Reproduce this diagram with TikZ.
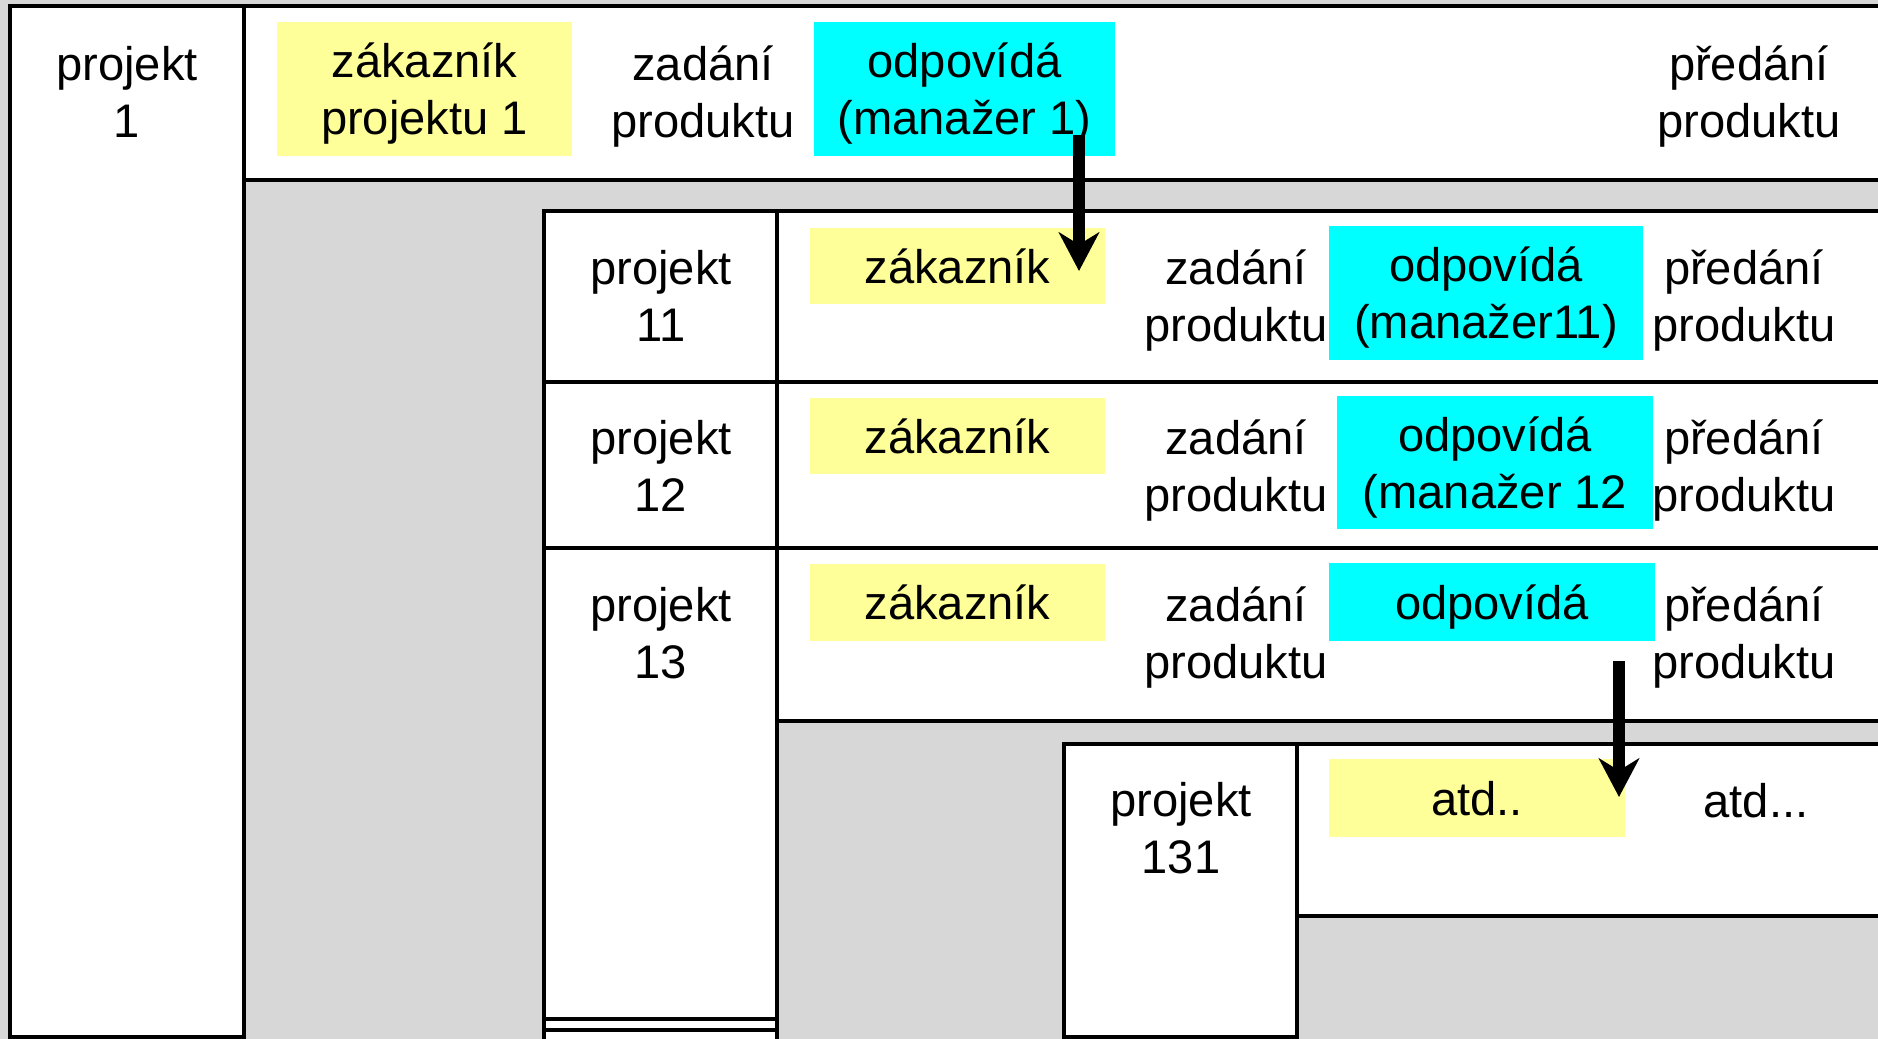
\documentclass[tikz,border=0pt]{standalone}
\usepackage{fontspec}
\setmainfont{Liberation Sans}
\usetikzlibrary{arrows.meta}
\definecolor{bggrey}{RGB}{215,215,215}
\definecolor{paleyellow}{RGB}{255,255,153}
\definecolor{brightcyan}{RGB}{0,255,255}
% lines are centred on their x-height band
\newcommand{\oneline}[1]{\smash{#1}\rule{0pt}{\dimexpr1ex+2.8pt\relax}}
\newcommand{\twolines}[2]{\smash{#1}\rule{0pt}{\dimexpr1ex+2.8pt\relax}\\\smash{#2}}
\tikzstyle{frame}=[draw=black, fill=white, line width=1.1pt]
\tikzstyle{txt}=[align=center, inner sep=0pt, font=\fontsize{13.4}{16.2}\selectfont]
\tikzstyle{yellowbox}=[txt, fill=paleyellow]
\tikzstyle{cyanbox}=[txt, fill=brightcyan]
\tikzstyle{arrow}=[draw=black, line width=3.2pt, -{Stealth[length=11pt, width=11.5pt, inset=3.5pt]}]
\begin{document}
\begin{tikzpicture}[x=0.01cm, y=-0.01cm]
		   \useasboundingbox (0,0) rectangle (1878,1039);
		   \clip (0,0) rectangle (1878,1039);
		   \fill[bggrey] (0,0) rectangle (1878,1039);
		   \begin{scope}
			   \path[frame] (10,6) rectangle (244,1037);
			   \path[frame] (244,6) rectangle (1900,180);
			   \path[frame] (544,211) rectangle (777,1100);
			   \draw[line width=1.1pt] (544,382) -- (777,382);
			   \draw[line width=1.1pt] (544,548) -- (777,548);
			   \draw[line width=1.1pt] (544,1019) -- (777,1019);
			   \draw[line width=1.1pt] (544,1030) -- (777,1030);
			   \path[frame] (777,211) rectangle (1900,382);
			   \path[frame] (777,382) rectangle (1900,548);
			   \path[frame] (777,548) rectangle (1900,721);
			   \path[frame] (1064,744) rectangle (1297,1037);
			   \path[frame] (1297,744) rectangle (1900,916);
		   \end{scope}
		   \begin{scope}
			   \node (p1) at (127,91.5)[txt] {\twolines{projekt}{1}};
			   \node (zak1) at (424.5,89)[yellowbox, minimum width=2.95cm, minimum height=1.34cm] {\twolines{zákazník}{projektu 1}};
			   \node (zad1) at (703,91.5)[txt] {\twolines{zadání}{produktu}};
			   \node (odp1) at (964.5,89)[cyanbox, minimum width=3.01cm, minimum height=1.34cm] {\twolines{odpovídá}{(manažer 1)}};
			   \node (pred1) at (1749,91.5)[txt] {\twolines{předání}{produktu}};
		   \end{scope}
		   \begin{scope}
			   \node (p11) at (661,295.5)[txt] {\twolines{projekt}{11}};
			   \node (zak11) at (957.5,266)[yellowbox, minimum width=2.95cm, minimum height=0.76cm] {\oneline{zákazník}};
			   \node (zad11) at (1236,295.5)[txt] {\twolines{zadání}{produktu}};
			   \node (odp11) at (1486,293)[cyanbox, minimum width=3.14cm, minimum height=1.34cm] {\twolines{odpovídá}{(manažer11)}};
			   \node (pred11) at (1744,295.5)[txt] {\twolines{předání}{produktu}};
		   \end{scope}
		   \begin{scope}
			   \node (p12) at (661,465.5)[txt] {\twolines{projekt}{12}};
			   \node (zak12) at (957.5,436)[yellowbox, minimum width=2.95cm, minimum height=0.76cm] {\oneline{zákazník}};
			   \node (zad12) at (1236,465.5)[txt] {\twolines{zadání}{produktu}};
			   \node (odp12) at (1495,462.5)[cyanbox, minimum width=3.16cm, minimum height=1.33cm] {\twolines{odpovídá}{(manažer 12}};
			   \node (pred12) at (1744,465.5)[txt] {\twolines{předání}{produktu}};
		   \end{scope}
		   \begin{scope}
			   \node (p13) at (661,632.5)[txt] {\twolines{projekt}{13}};
			   \node (zak13) at (957.5,602.5)[yellowbox, minimum width=2.95cm, minimum height=0.77cm] {\oneline{zákazník}};
			   \node (zad13) at (1236,632.5)[txt] {\twolines{zadání}{produktu}};
			   \node (odp13) at (1492,602)[cyanbox, minimum width=3.26cm, minimum height=0.78cm] {\oneline{odpovídá}};
			   \node (pred13) at (1744,632.5)[txt] {\twolines{předání}{produktu}};
		   \end{scope}
		   \begin{scope}
			   \node (p131) at (1181,828)[txt] {\twolines{projekt}{131}};
			   \node (atd1) at (1477,798)[yellowbox, minimum width=2.96cm, minimum height=0.77cm] {\oneline{atd..}};
			   \node (atd2) at (1756,800)[txt] {\oneline{atd...}};
		   \end{scope}
		   \begin{scope}
			   \coordinate (s1) at (1079,135);
			   \coordinate (t1) at (1079,271);
			   \coordinate (s2) at (1619,661);
			   \coordinate (t2) at (1619,797);
			   \draw[arrow] (s1) -- (t1);
			   \draw[arrow] (s2) -- (t2);
		   \end{scope}
	   \end{tikzpicture}
\end{document}
